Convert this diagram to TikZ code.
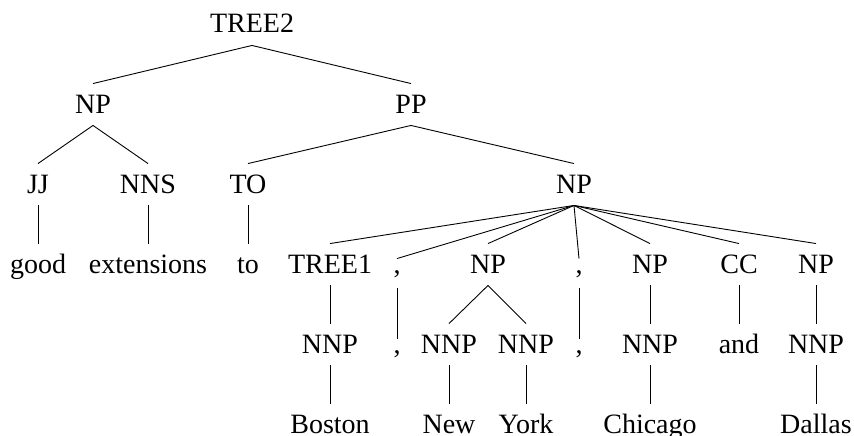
\documentclass[tikz,border=0pt]{standalone}
\usepackage{fontspec}
\setmainfont{Liberation Serif}

\begin{document}
\begin{tikzpicture}[x=1pt, y=-1pt, line width=0.9pt,
    tag/.style={font=\fontsize{28}{30}\selectfont, anchor=base, inner xsep=2pt, inner ysep=10pt, text height=19pt, text depth=2pt},
    punct/.style={tag, text height=4pt, text depth=5pt}]

    \useasboundingbox (0,0) rectangle (854,436);

    % Root
    \node[tag] (tree2) at (252,33) {TREE2};

    % Phrases
    \node[tag] (np1) at (93,113) {NP};
    \node[tag] (pp) at (411,113) {PP};

    % Tags under NP and PP
    \node[tag] (jj) at (38,193) {JJ};
    \node[tag] (nns) at (148,193) {NNS};
    \node[tag] (to) at (248,193) {TO};
    \node[tag] (np2) at (574,193) {NP};

    % Words and the conjoined NP
    \node[tag] (good) at (38,273) {good};
    \node[tag] (ext) at (148,273) {extensions};
    \node[tag] (toword) at (248,273) {to};
    \node[tag] (tree1) at (330,273) {TREE1};
    \node[punct] (comma1) at (397,273) {,};
    \node[tag] (np3) at (488,273) {NP};
    \node[punct] (comma2) at (579,273) {,};
    \node[tag] (np4) at (650,273) {NP};
    \node[tag] (cc) at (739,273) {CC};
    \node[tag] (np5) at (816,273) {NP};

    % Proper noun tags
    \node[tag] (nnp1) at (330,353) {NNP};
    \node[punct] (comma1w) at (397,353) {,};
    \node[tag] (nnp2) at (449,353) {NNP};
    \node[tag] (nnp3) at (526,353) {NNP};
    \node[punct] (comma2w) at (579,353) {,};
    \node[tag] (nnp4) at (650,353) {NNP};
    \node[tag] (andword) at (739,353) {and};
    \node[tag] (nnp5) at (816,353) {NNP};

    % City names
    \node[tag] (boston) at (330,433) {Boston};
    \node[tag] (new) at (449,433) {New};
    \node[tag] (york) at (526,433) {York};
    \node[tag] (chicago) at (650,433) {Chicago};
    \node[tag] (dallas) at (816,433) {Dallas};

    % Branches
    \foreach \p/\c in {tree2/np1, tree2/pp, np1/jj, np1/nns, pp/to, pp/np2,
        jj/good, nns/ext, to/toword,
        np2/tree1, np2/comma1, np2/np3, np2/comma2, np2/np4, np2/cc, np2/np5,
        tree1/nnp1, comma1/comma1w, np3/nnp2, np3/nnp3, comma2/comma2w,
        np4/nnp4, cc/andword, np5/nnp5,
        nnp1/boston, nnp2/new, nnp3/york, nnp4/chicago, nnp5/dallas} {
        \draw (\p.south) -- (\c.north);
    }
\end{tikzpicture}
\end{document}
